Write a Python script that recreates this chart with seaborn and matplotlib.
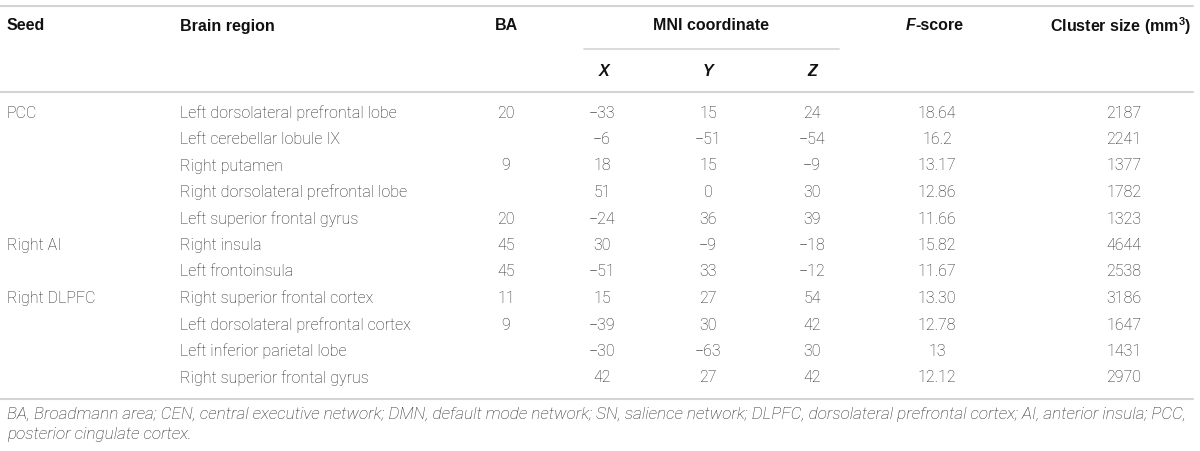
import numpy as np
import pandas as pd
import matplotlib
matplotlib.use("Agg")
import matplotlib.pyplot as plt
import seaborn as sns

# table contents
seeds = ["PCC", "", "", "", "", "Right AI", "", "Right DLPFC", "", "", ""]
regions = ["Left dorsolateral prefrontal lobe", "Left cerebellar lobule IX", "Right putamen",
           "Right dorsolateral prefrontal lobe", "Left superior frontal gyrus", "Right insula",
           "Left frontoinsula", "Right superior frontal cortex", "Left dorsolateral prefrontal cortex",
           "Left inferior parietal lobe", "Right superior frontal gyrus"]
ba = ["20", "", "9", "", "20", "45", "45", "11", "9", "", ""]
mni_x = [-33, -6, 18, 51, -24, 30, -51, 15, -39, -30, 42]
mni_y = [15, -51, 15, 0, 36, -9, 33, 27, 30, -63, 27]
mni_z = [24, -54, -9, 30, 39, -18, -12, 54, 42, 30, 42]
fscore = ["18.64", "16.2", "13.17", "12.86", "11.66", "15.82", "11.67", "13.30", "12.78", "13", "12.12"]
cluster = [2187, 2241, 1377, 1782, 1323, 4644, 2538, 3186, 1647, 1431, 2970]
footnote = ["BA, Broadmann area; CEN, central executive network; DMN, default mode network; SN, salience network; "
            "DLPFC, dorsolateral prefrontal cortex; AI, anterior insula; PCC,",
            "posterior cingulate cortex."]

df = pd.DataFrame({"seed": seeds, "region": regions, "ba": ba, "x": mni_x, "y": mni_y,
                   "z": mni_z, "f": fscore, "cluster": cluster})

def fmt(v):
    return str(v).replace("-", "\u2212")

sns.set_theme(style="white")
plt.rcParams['font.family'] = ['Roboto', 'DejaVu Sans']

body = dict(fontsize=11.5, color="#262626", fontweight="light", va="center")
head = dict(fontsize=11.5, color="#111111", fontweight="bold", va="center",
            family=['Liberation Sans', 'DejaVu Sans'])
rule = "#d4d4d4"

fig = plt.figure(figsize=(12, 4.51), dpi=100)
ax = fig.add_axes([0, 0, 1, 1])
ax.set_xlim(0, 1200)
ax.set_ylim(451, 0)
ax.axis("off")

# rules
ax.plot([0, 1193], [6, 6], color=rule, lw=1.5)
ax.plot([0, 1193], [92, 92], color=rule, lw=1.5)
ax.plot([584, 839], [49, 49], color=rule, lw=1.2)
ax.plot([0, 1193], [399, 399], color=rule, lw=1.5)

# header
ax.text(7, 26, "Seed", ha="left", **head)
ax.text(180, 26, "Brain region", ha="left", **head)
ax.text(506, 26, "BA", ha="center", **head)
ax.text(711, 26, "MNI coordinate", ha="center", **head)
t1 = ax.text(906, 26, "F", ha="left", fontstyle="italic", **head)
ax.annotate("-score", xy=(1, 0.5), xycoords=t1, ha="left", **head)
ax.text(1121, 26, "Cluster size (mm$^{\\mathregular{3}}$)", ha="center", **head)
for xc, lab in zip([604, 708, 812], ["X", "Y", "Z"]):
    ax.text(xc, 72, lab, ha="center", fontstyle="italic", **head)

# rows
row_y = 113 + 26.5 * np.arange(len(df))
for yy, (_, r) in zip(row_y, df.iterrows()):
    ax.text(7, yy, r["seed"], ha="left", **body)
    ax.text(180, yy, r["region"], ha="left", **body)
    ax.text(506, yy, r["ba"], ha="center", **body)
    ax.text(602, yy, fmt(r["x"]), ha="center", **body)
    ax.text(708, yy, fmt(r["y"]), ha="center", **body)
    ax.text(812, yy, fmt(r["z"]), ha="center", **body)
    ax.text(937, yy, r["f"], ha="center", **body)
    ax.text(1124, yy, str(r["cluster"]), ha="center", **body)

# footnote
foot = dict(body)
foot["fontsize"] = 12.3
for i, line in enumerate(footnote):
    ax.text(7, 415 + 20 * i, line, ha="left", fontstyle="italic", **foot)

fig.savefig("out.png", dpi=100)
